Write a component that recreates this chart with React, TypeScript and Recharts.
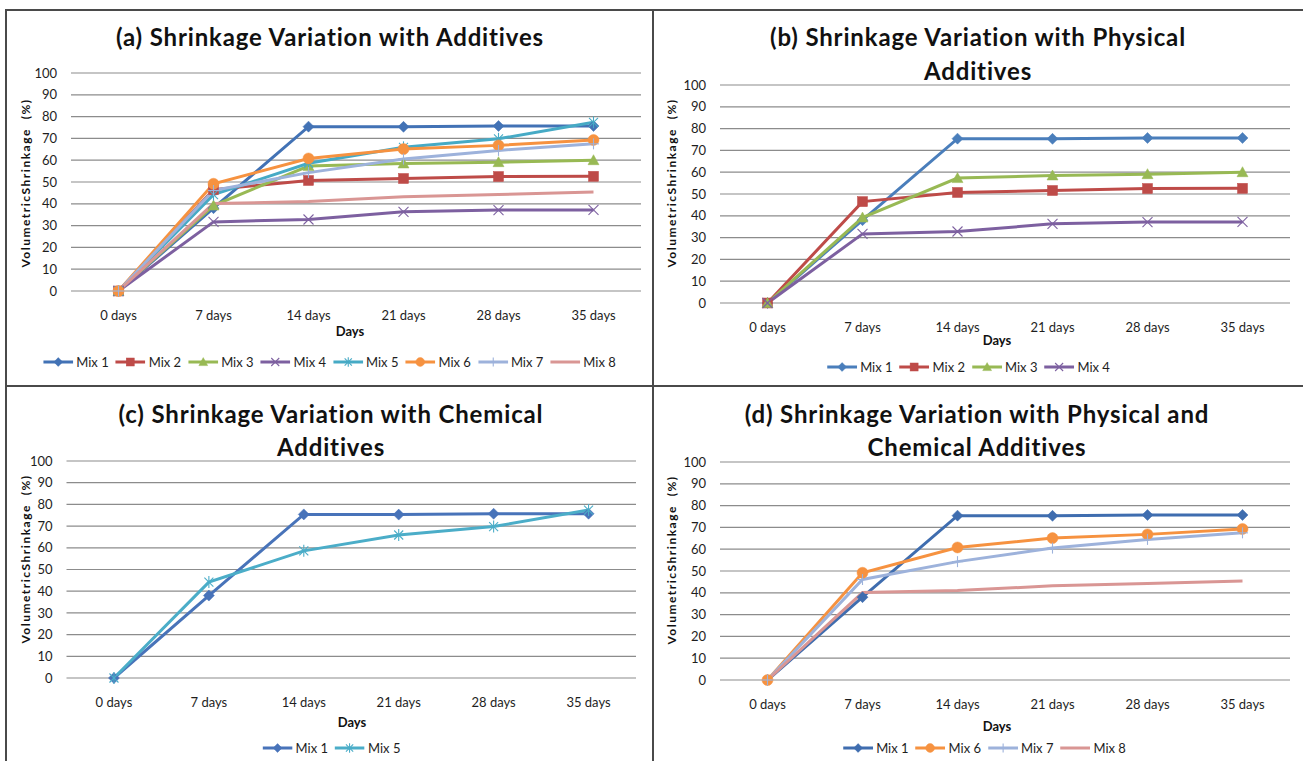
import React from 'react';
import { LineChart, Line, XAxis, YAxis, CartesianGrid } from 'recharts';

const categories = ['0 days', '7 days', '14 days', '21 days', '28 days', '35 days'];
const yTicks = [0, 10, 20, 30, 40, 50, 60, 70, 80, 90, 100];

const mix1 = [0, 38.0, 75.4, 75.3, 75.7, 75.7];
const mix2 = [0, 46.5, 50.7, 51.6, 52.5, 52.6];
const mix3 = [0, 39.2, 57.3, 58.5, 59.1, 60.0];
const mix4 = [0, 31.7, 32.8, 36.3, 37.1, 37.2];
const mix5 = [0, 44.2, 58.6, 65.9, 69.8, 77.4];
const mix6 = [0, 49.2, 60.8, 65.1, 66.8, 69.3];
const mix7 = [0, 46.1, 54.3, 60.5, 64.5, 67.5];
const mix8 = [0, 40.1, 41.0, 43.2, 44.3, 45.4];

const FONT = 'Lato, "Open Sans", sans-serif';
const TEXT = '#1e1e1e';

type Shape = 'diamond' | 'square' | 'triangle' | 'x' | 'star' | 'circle' | 'plus' | 'none';

interface SeriesDef {
  key: string;
  name: string;
  values: number[];
  color: string;
  shape: Shape;
}

const S = {
  mix1: { key: 'mix1', name: 'Mix 1', values: mix1, color: '#4A7EBB', shape: 'diamond' as Shape },
  mix2: { key: 'mix2', name: 'Mix 2', values: mix2, color: '#BE4B48', shape: 'square' as Shape },
  mix3: { key: 'mix3', name: 'Mix 3', values: mix3, color: '#98B954', shape: 'triangle' as Shape },
  mix4: { key: 'mix4', name: 'Mix 4', values: mix4, color: '#7D60A0', shape: 'x' as Shape },
  mix5: { key: 'mix5', name: 'Mix 5', values: mix5, color: '#46AAC5', shape: 'star' as Shape },
  mix6: { key: 'mix6', name: 'Mix 6', values: mix6, color: '#F69240', shape: 'circle' as Shape },
  mix7: { key: 'mix7', name: 'Mix 7', values: mix7, color: '#9DB2DB', shape: 'plus' as Shape },
  mix8: { key: 'mix8', name: 'Mix 8', values: mix8, color: '#D99694', shape: 'none' as Shape },
};

function Marker({ cx, cy, shape, color, scale = 1 }: { cx: number; cy: number; shape: Shape; color: string; scale?: number }) {
  const k = scale;
  if (cx == null || cy == null) return <g />;
  switch (shape) {
    case 'diamond':
      return <polygon points={`${cx},${cy - 5.5 * k} ${cx + 5.5 * k},${cy} ${cx},${cy + 5.5 * k} ${cx - 5.5 * k},${cy}`} fill={color} stroke={color} strokeWidth={0.5} />;
    case 'square':
      return <rect x={cx - 5 * k} y={cy - 5 * k} width={10 * k} height={10 * k} fill={color} stroke={color} strokeWidth={0.5} />;
    case 'triangle':
      return <polygon points={`${cx},${cy - 5.5 * k} ${cx + 5.5 * k},${cy + 4.5 * k} ${cx - 5.5 * k},${cy + 4.5 * k}`} fill={color} stroke={color} strokeWidth={0.5} />;
    case 'circle':
      return <circle cx={cx} cy={cy} r={5.5 * k} fill={color} stroke={color} strokeWidth={0.5} />;
    case 'x':
      return (
        <g stroke={color} strokeWidth={1.1}>
          <line x1={cx - 5 * k} y1={cy - 5 * k} x2={cx + 5 * k} y2={cy + 5 * k} />
          <line x1={cx - 5 * k} y1={cy + 5 * k} x2={cx + 5 * k} y2={cy - 5 * k} />
        </g>
      );
    case 'star':
      return (
        <g stroke={color} strokeWidth={1.1}>
          <line x1={cx - 4.5 * k} y1={cy - 4.5 * k} x2={cx + 4.5 * k} y2={cy + 4.5 * k} />
          <line x1={cx - 4.5 * k} y1={cy + 4.5 * k} x2={cx + 4.5 * k} y2={cy - 4.5 * k} />
          <line x1={cx} y1={cy - 6 * k} x2={cx} y2={cy + 6 * k} />
        </g>
      );
    case 'plus':
      return (
        <g stroke={color} strokeWidth={1.1}>
          <line x1={cx - 5.5 * k} y1={cy} x2={cx + 5.5 * k} y2={cy} />
          <line x1={cx} y1={cy - 5.5 * k} x2={cx} y2={cy + 5.5 * k} />
        </g>
      );
    default:
      return <g />;
  }
}

interface PanelDef {
  id: string;
  box: { x: number; y: number; w: number; h: number };
  plot: { x1: number; x2: number; y1: number; y2: number };
  title: string[];
  titleY: number[];
  titleX: number;
  ylabel: { x: number; y: number };
  days: { x: number; y: number };
  legend: { x: number; y: number };
  series: SeriesDef[];
}

const panels: PanelDef[] = [
  {
    id: 'a',
    box: { x: 6, y: 10, w: 646, h: 375 },
    plot: { x1: 71, x2: 641, y1: 73, y2: 291 },
    title: ['(a) Shrinkage Variation with Additives'],
    titleY: [38],
    titleX: 330,
    ylabel: { x: 25, y: 183 },
    days: { x: 350, y: 331 },
    legend: { x: 333, y: 362 },
    series: [S.mix1, S.mix2, S.mix3, S.mix4, S.mix5, S.mix6, S.mix7, S.mix8].map((s) =>
      s.key === 'mix1' ? { ...s, color: '#4272B5' } : s
    ),
  },
  {
    id: 'b',
    box: { x: 654, y: 10, w: 649, h: 375 },
    plot: { x1: 720, x2: 1290, y1: 85, y2: 303 },
    title: ['(b) Shrinkage Variation with Physical', 'Additives'],
    titleY: [38, 72],
    titleX: 978,
    ylabel: { x: 671, y: 183 },
    days: { x: 997, y: 340 },
    legend: { x: 972, y: 367 },
    series: [S.mix1, S.mix2, S.mix3, S.mix4],
  },
  {
    id: 'c',
    box: { x: 6, y: 387, w: 646, h: 374 },
    plot: { x1: 66.5, x2: 636, y1: 461, y2: 678 },
    title: ['(c) Shrinkage Variation with Chemical', 'Additives'],
    titleY: [415, 448],
    titleX: 331,
    ylabel: { x: 25, y: 559 },
    days: { x: 352, y: 722 },
    legend: { x: 335, y: 748 },
    series: [{ ...S.mix1, color: '#4873B9' }, { ...S.mix5, color: '#4BADC8' }],
  },
  {
    id: 'd',
    box: { x: 654, y: 387, w: 649, h: 374 },
    plot: { x1: 720, x2: 1290, y1: 462, y2: 680 },
    title: ['(d) Shrinkage Variation with Physical and', 'Chemical Additives'],
    titleY: [415, 448],
    titleX: 977,
    ylabel: { x: 671, y: 560 },
    days: { x: 997, y: 726 },
    legend: { x: 988, y: 748 },
    series: [{ ...S.mix1, color: '#3F6DAF' }, S.mix6, S.mix7, S.mix8],
  },
];

function LegendRow({ series }: { series: SeriesDef[] }) {
  return (
    <div style={{ display: 'flex', alignItems: 'center', whiteSpace: 'nowrap' }}>
      {series.map((s) => (
        <div key={s.key} style={{ display: 'flex', alignItems: 'center', marginRight: 7 }}>
          <svg width={30} height={14} style={{ display: 'block' }}>
            <line x1={0} y1={7} x2={30} y2={7} stroke={s.color} strokeWidth={3} />
            <Marker cx={15} cy={7} shape={s.shape} color={s.color} scale={0.8} />
          </svg>
          <span style={{ marginLeft: 3, fontFamily: FONT, fontSize: 13, color: TEXT, lineHeight: '14px' }}>{s.name}</span>
        </div>
      ))}
    </div>
  );
}

function Panel({ p }: { p: PanelDef }) {
  const data = categories.map((c, i) => {
    const row: Record<string, string | number> = { day: c };
    p.series.forEach((s) => {
      row[s.key] = s.values[i];
    });
    return row;
  });
  const yw = 40;
  const xh = 30;
  const margin = {
    top: p.plot.y1 - p.box.y,
    right: p.box.x + p.box.w - p.plot.x2,
    left: p.plot.x1 - p.box.x - yw,
    bottom: p.box.y + p.box.h - p.plot.y2 - xh,
  };
  const half = (p.plot.x2 - p.plot.x1) / categories.length / 2;
  const tick = { fontSize: 13, fill: TEXT, fontFamily: FONT };
  return (
    <>
      <div style={{ position: 'absolute', left: p.box.x, top: p.box.y }}>
        <LineChart width={p.box.w} height={p.box.h} data={data} margin={margin}>
          <CartesianGrid horizontal vertical={false} stroke="#8c8c8c" strokeWidth={1.2} />
          <XAxis
            dataKey="day"
            height={xh}
            tickSize={0}
            tickMargin={20}
            axisLine={false}
            tickLine={false}
            tick={tick}
            interval={0}
            padding={{ left: half, right: half }}
          />
          <YAxis
            width={yw}
            domain={[0, 100]}
            ticks={yTicks}
            tickSize={0}
            tickMargin={14}
            axisLine={false}
            tickLine={false}
            tick={tick}
            interval={0}
          />
          {p.series.map((s) => (
            <Line
              key={s.key}
              type="linear"
              dataKey={s.key}
              name={s.name}
              stroke={s.color}
              strokeWidth={3}
              isAnimationActive={false}
              activeDot={false}
              dot={(props: any) => (
                <Marker key={`${s.key}-${props.index}`} cx={props.cx} cy={props.cy} shape={s.shape} color={s.color} />
              )}
            />
          ))}
        </LineChart>
      </div>
      {p.title.map((t, i) => (
        <div
          key={i}
          style={{
            position: 'absolute',
            left: p.titleX,
            top: p.titleY[i],
            transform: 'translate(-50%, -52%)',
            fontFamily: FONT,
            fontWeight: 700,
            fontSize: 24,
            letterSpacing: 0.85,
            lineHeight: '26px',
            color: '#111',
            whiteSpace: 'nowrap',
          }}
        >
          {t}
        </div>
      ))}
      <div
        style={{
          position: 'absolute',
          left: p.ylabel.x,
          top: p.ylabel.y,
          transform: 'translate(-50%, -50%) rotate(-90deg)',
          fontFamily: FONT,
          fontWeight: 700,
          fontSize: 12,
          letterSpacing: 1.5,
          lineHeight: '13px',
          color: '#111',
          whiteSpace: 'pre',
        }}
      >
        {'VolumetricShrinkage  (%)'}
      </div>
      <div
        style={{
          position: 'absolute',
          left: p.days.x,
          top: p.days.y,
          transform: 'translate(-50%, -50%)',
          fontFamily: FONT,
          fontWeight: 700,
          fontSize: 13,
          lineHeight: '14px',
          color: '#111',
        }}
      >
        Days
      </div>
      <div style={{ position: 'absolute', left: p.legend.x, top: p.legend.y, transform: 'translate(-50%, -50%)' }}>
        <LegendRow series={p.series} />
      </div>
    </>
  );
}

export default function App() {
  return (
    <div style={{ position: 'absolute', left: 0, top: 0, width: 1303, height: 761, background: '#fff', overflow: 'hidden' }}>
      <div style={{ position: 'absolute', left: 5, top: 9, width: 1298, height: 1.5, background: '#4a4a4a' }} />
      <div style={{ position: 'absolute', left: 5, top: 9, width: 1.5, height: 752, background: '#4a4a4a' }} />
      <div style={{ position: 'absolute', left: 652, top: 9, width: 1.5, height: 752, background: '#4a4a4a' }} />
      <div style={{ position: 'absolute', left: 5, top: 385, width: 1298, height: 1.5, background: '#4a4a4a' }} />
      {panels.map((p) => (
        <Panel key={p.id} p={p} />
      ))}
    </div>
  );
}
